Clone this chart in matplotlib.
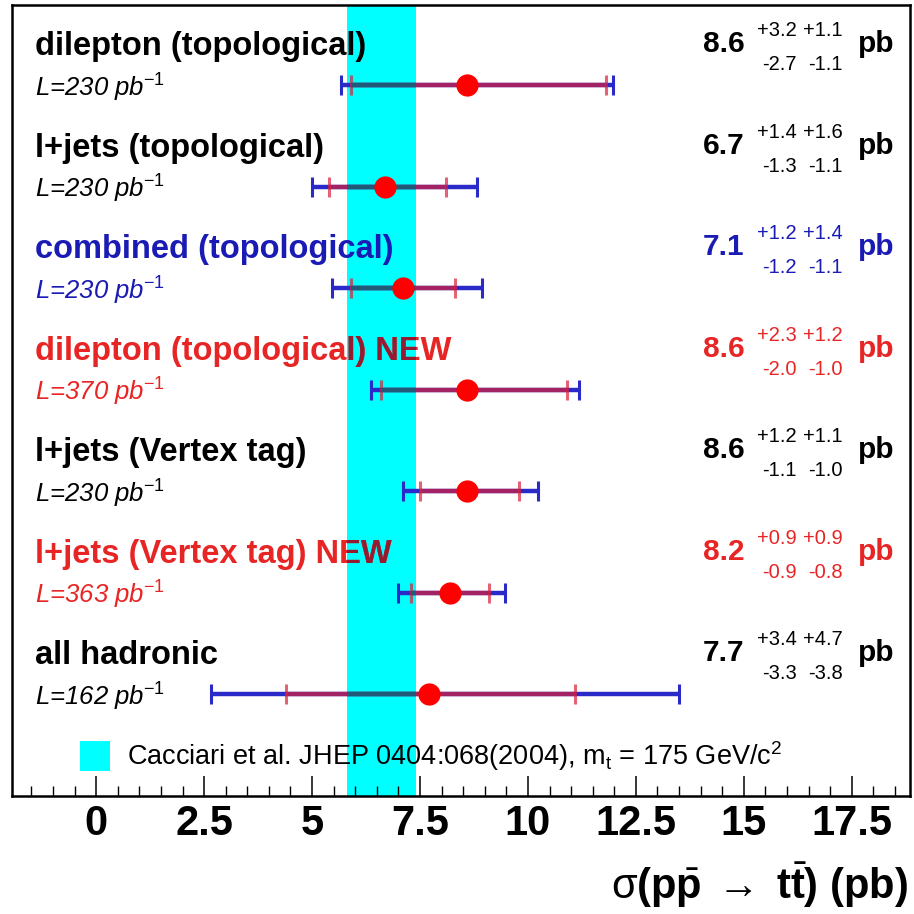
import matplotlib
matplotlib.use("Agg")
import matplotlib.pyplot as plt
import matplotlib.transforms as mtransforms
from matplotlib.patches import Rectangle, Patch
from matplotlib.ticker import FixedLocator, FixedFormatter, MultipleLocator

# ---------------- data ----------------
titles = ["dilepton (topological)", "l+jets (topological)", "combined (topological)",
          "dilepton (topological) NEW", "l+jets (Vertex tag)", "l+jets (Vertex tag) NEW",
          "all hadronic"]
lumi = [230, 230, 230, 370, 230, 363, 162]
xsec = [8.6, 6.7, 7.1, 8.6, 8.6, 8.2, 7.7]
stat_up = [3.2, 1.4, 1.2, 2.3, 1.2, 0.9, 3.4]
syst_up = [1.1, 1.6, 1.4, 1.2, 1.1, 0.9, 4.7]
stat_dn = [2.7, 1.3, 1.2, 2.0, 1.1, 0.9, 3.3]
syst_dn = [1.1, 1.1, 1.1, 1.0, 1.0, 0.8, 3.8]
# total (stat+syst) error bar extents
tot_up = [3.38, 2.13, 1.84, 2.59, 1.63, 1.27, 5.80]
tot_dn = [2.92, 1.70, 1.63, 2.24, 1.49, 1.20, 5.03]
row_colors = ["black", "black", "blue", "red", "black", "red", "black"]

theory_central = 6.7
theory_up = 0.7
theory_dn = 0.9
theory_label = r"Cacciari et al. JHEP 0404:068(2004), m$_{\mathregular{t}}$ = 175 GeV/c$^{\mathregular{2}}$"

xticks = [0, 2.5, 5, 7.5, 10, 12.5, 15, 17.5]
xtick_labels = ["0", "2.5", "5", "7.5", "10", "12.5", "15", "17.5"]

# ---------------- style ----------------
plt.rcParams["font.family"] = ["Liberation Sans", "DejaVu Sans"]
plt.rcParams["mathtext.fontset"] = "custom"
plt.rcParams["mathtext.rm"] = "Liberation Sans"
plt.rcParams["mathtext.it"] = "Liberation Sans:italic"
plt.rcParams["mathtext.bf"] = "Liberation Sans:bold"

COL = {"black": "#000000", "blue": "#1a1ab4", "red": "#e82525"}
DARK = {"black": "#000000", "blue": "#0a1aa0", "red": "#941c30"}
CYAN = "#00ffff"
BLUE_LINE = "#2a2ac8"
RED_LINE = "#d8203a"
IN_BAND = "#1f5a78"

fig = plt.figure(figsize=(9.14, 9.14), dpi=100)
ax = fig.add_axes([12 / 914, 1 - 796 / 914, 898 / 914, 791 / 914])
ax.set_xlim(-1.95, 18.85)
ax.set_ylim(0, 7.79)

n = len(titles)
ypos = [n - i for i in range(n)]  # 7 ... 1

# theory band
band = Rectangle((theory_central - theory_dn, 0), theory_up + theory_dn, 1,
                 transform=ax.get_xaxis_transform(), facecolor=CYAN,
                 edgecolor="none", zorder=0.5)
ax.add_patch(band)

for i in range(n):
    y = ypos[i]
    x = xsec[i]
    # total error (blue)
    ax.errorbar([x], [y], xerr=[[tot_dn[i]], [tot_up[i]]], fmt="none",
                ecolor=BLUE_LINE, elinewidth=3.2, capsize=7.5, capthick=2.2, zorder=2)
    # stat error (red)
    ax.errorbar([x], [y], xerr=[[stat_dn[i]], [stat_up[i]]], fmt="none",
                ecolor=RED_LINE, elinewidth=3.2, capsize=7.5, capthick=2.2,
                alpha=0.7, zorder=2.2)
    # darkened part of line inside the band
    seg = ax.hlines([y], [x - stat_dn[i]], [x + stat_up[i]], colors=IN_BAND,
                    linewidth=3.2, zorder=2.4)
    seg.set_clip_path(band)
    # central point
    ax.plot([x], [y], "o", color="#ff0000", markersize=16, markeredgewidth=0, zorder=5)

trans = mtransforms.blended_transform_factory(ax.transAxes, ax.transData)
px = 1 / 101.5

def add_text(xf, y, s, color_key, **kw):
    ax.text(xf, y, s, transform=trans, color=COL[color_key], zorder=3, **kw)
    if color_key == "red":
        t = ax.text(xf, y, s, transform=trans, color=DARK[color_key], zorder=3.1,
                    clip_on=True, **kw)
        t.set_clip_path(band)

for i in range(n):
    y = ypos[i]
    c = row_colors[i]
    add_text(0.0256, y + 30 * px, titles[i], c, fontsize=23.5, fontweight="bold",
             va="baseline", ha="left")
    add_text(0.0256, y - 11 * px, "L=%d pb$^{\\mathit{-1}}$" % lumi[i], c,
             fontsize=18.5, fontstyle="italic", va="baseline", ha="left")
    add_text(0.7695, y + 33 * px, "%.1f" % xsec[i], c, fontsize=21.5,
             fontweight="bold", va="baseline", ha="left")
    add_text(0.8742, y + 49 * px, "+%.1f" % stat_up[i], c, fontsize=14.5,
             va="baseline", ha="right")
    add_text(0.9254, y + 49 * px, "+%.1f" % syst_up[i], c, fontsize=14.5,
             va="baseline", ha="right")
    add_text(0.8742, y + 15 * px, "-%.1f" % stat_dn[i], c, fontsize=14.5,
             va="baseline", ha="right")
    add_text(0.9254, y + 15 * px, "-%.1f" % syst_dn[i], c, fontsize=14.5,
             va="baseline", ha="right")
    add_text(0.9421, y + 33 * px, "pb", c, fontsize=21.5, fontweight="bold",
             va="baseline", ha="left")

# legend
leg = ax.legend(handles=[Patch(facecolor=CYAN, edgecolor="none", label=theory_label)],
                loc="lower left", bbox_to_anchor=(0.0757, 0.029), frameon=False,
                borderpad=0, borderaxespad=0, fontsize=19.5, handlelength=1.12,
                handleheight=1.3, handletextpad=0.62)
leg.set_zorder(3)

# axes styling
for sp in ax.spines.values():
    sp.set_linewidth(1.8)
ax.yaxis.set_visible(False)
ax.xaxis.set_major_locator(FixedLocator(xticks))
ax.xaxis.set_major_formatter(FixedFormatter(xtick_labels))
ax.xaxis.set_minor_locator(MultipleLocator(0.5))
ax.tick_params(axis="x", which="major", direction="in", length=14.5, width=1.1,
               labelsize=30, pad=6)
ax.tick_params(axis="x", which="minor", direction="in", length=7, width=1.0)
for lab in ax.get_xticklabels():
    lab.set_fontweight("bold")

fig.text(908 / 914, 1 - 899 / 914,
         r"$\mathrm{\sigma}\mathbf{(p}\bar{\mathbf{p}}\;\rightarrow\;\mathbf{t}\bar{\mathbf{t}}\mathbf{)}$ (pb)",
         ha="right", va="baseline", fontsize=30, fontweight="bold")

fig.savefig("out.png", dpi=100)
